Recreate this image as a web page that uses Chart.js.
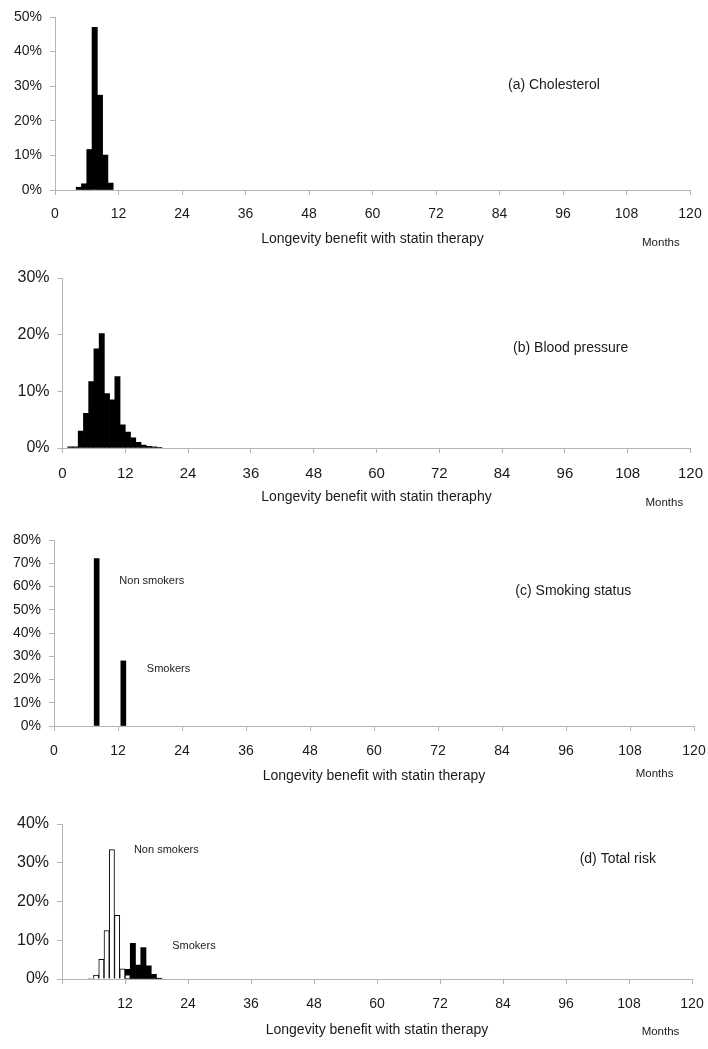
<!DOCTYPE html>
<html>
<head>
<meta charset="utf-8">
<script src="https://cdn.jsdelivr.net/npm/chart.js@4.4.1/dist/chart.umd.min.js"></script>
<style>
  body { margin: 0; background: #fff; }
  canvas { position: absolute; left: 0; }
</style>
</head>
<body>
<canvas id="chartA" width="708" height="262" style="top:0px"></canvas>
<canvas id="chartB" width="708" height="258" style="top:262px"></canvas>
<canvas id="chartC" width="708" height="279" style="top:520px"></canvas>
<canvas id="chartD" width="708" height="250" style="top:799px"></canvas>
<script>
// x axis ticks, months
const monthTicks = [0, 12, 24, 36, 48, 60, 72, 84, 96, 108, 120];

// (a) cholesterol - 1 month bins (left edge), % of patients
const cholBins = [4, 5, 6, 7, 8, 9, 10];
const cholShares = [0.8, 1.8, 11.7, 47, 27.4, 10.1, 2.0];

// (b) blood pressure
const bpBins = [1, 2, 3, 4, 5, 6, 7, 8, 9, 10, 11, 12, 13, 14, 15, 16, 17, 18];
const bpShares = [0.2, 0.2, 3.0, 6.1, 11.7, 17.5, 20.2, 9.6, 8.5, 12.6, 4.1, 2.8, 1.8, 1.0, 0.5, 0.3, 0.2, 0.1];

// (c) smoking status
const smokeMonths = [8, 13];
const smokeShares = [72, 28];

// (d) total risk
const nonSmokerBins = [5, 6, 7, 8, 9, 10, 11, 12];
const nonSmokerShares = [0.2, 1.0, 5.1, 12.5, 33.4, 16.4, 2.6, 1.1];
const smokerBins = [12, 13, 14, 15, 16, 17, 18];
const smokerShares = [2.5, 9.2, 3.6, 8.1, 3.4, 1.2, 0.2];

const FONT = "'Liberation Sans', Arial, sans-serif";
const TEXT = '#1a1a1a';
const AXIS = '#b4b4b4';

Chart.defaults.font.family = FONT;
Chart.defaults.color = TEXT;

// free text inside the panels + the "Months" unit under the axis
const panelText = {
  id: 'panelText',
  afterDraw(chart, args, opts) {
    const { ctx, chartArea, scales: { x, y } } = chart;
    ctx.save();
    ctx.fillStyle = TEXT;
    ctx.textBaseline = 'middle';
    ctx.textAlign = 'left';
    (opts.notes || []).forEach(n => {
      ctx.font = n.size + 'px ' + FONT;
      ctx.fillText(n.text, x.getPixelForValue(n.x), y.getPixelForValue(n.y));
    });
    if (opts.unit) {
      ctx.font = '11.5px ' + FONT;
      ctx.textAlign = 'center';
      ctx.fillText('Months', x.getPixelForValue(opts.unit.x), chartArea.bottom + opts.unit.dy);
    }
    ctx.restore();
  }
};

const toPoints = (bins, shares) => bins.map((b, i) => ({ x: b + 0.5, y: shares[i] }));

function makePanel(id, datasets, p) {
  const ctx = document.getElementById(id).getContext('2d');
  return new Chart(ctx, {
    type: 'bar',
    data: { datasets: datasets },
    plugins: [panelText],
    options: {
      responsive: false,
      animation: false,
      layout: { padding: { top: p.top, right: p.right, left: 0, bottom: 0 } },
      datasets: { bar: { grouped: false, barPercentage: 1, categoryPercentage: 1 } },
      plugins: {
        legend: { display: false },
        tooltip: { enabled: false },
        panelText: { notes: p.notes, unit: p.unit }
      },
      scales: {
        x: {
          type: 'linear',
          min: 0,
          max: 120,
          offset: false,
          afterBuildTicks: s => { s.ticks = monthTicks.map(v => ({ value: v })); },
          afterFit: s => { s.height = p.xHeight; s.paddingLeft = 0; s.paddingRight = 0; },
          grid: { offset: false, drawOnChartArea: false, color: AXIS, tickLength: 5 },
          border: { color: AXIS },
          ticks: {
            padding: p.tickPad,
            maxRotation: 0,
            font: { size: p.xSize },
            callback: v => (p.hideZero && v === 0) ? '' : v
          },
          title: {
            display: true,
            text: p.title,
            font: { size: 14 },
            padding: { top: 0, bottom: p.titlePad }
          }
        },
        y: {
          min: 0,
          max: p.yMax,
          afterFit: s => { s.width = p.left; s.paddingTop = 0; s.paddingBottom = 0; },
          grid: { drawOnChartArea: false, color: AXIS, tickLength: 5 },
          border: { color: AXIS },
          ticks: { stepSize: 10, padding: 8, font: { size: p.ySize }, callback: v => v + '%' }
        }
      }
    }
  });
}

makePanel('chartA', [
  { data: toPoints(cholBins, cholShares), backgroundColor: '#000', borderWidth: 0 }
], {
  top: 17, right: 18, left: 55, xHeight: 72, tickPad: 11, titlePad: 14.1, yMax: 50,
  xSize: 14, ySize: 14,
  title: 'Longevity benefit with statin therapy',
  notes: [{ text: '(a) Cholesterol', x: 85.6, y: 30.3, size: 14 }],
  unit: { x: 114.5, dy: 53 }
});

makePanel('chartB', [
  { data: toPoints(bpBins, bpShares), backgroundColor: '#000', borderWidth: 0 }
], {
  top: 16, right: 17.5, left: 62.5, xHeight: 72, tickPad: 11.7, titlePad: 14.6, yMax: 30,
  xSize: 15, ySize: 16,
  title: 'Longevity benefit with statin theraphy',
  notes: [{ text: '(b) Blood pressure', x: 86.1, y: 17.6, size: 14 }],
  unit: { x: 115, dy: 55 }
});

makePanel('chartC', [
  {
    data: smokeMonths.map((m, i) => ({ x: m, y: smokeShares[i] })),
    backgroundColor: '#000', borderWidth: 0, barThickness: 5
  }
], {
  top: 20, right: 14, left: 54, xHeight: 73, tickPad: 12, titlePad: 14.6, yMax: 80,
  xSize: 14, ySize: 14,
  title: 'Longevity benefit with statin therapy',
  notes: [
    { text: '(c) Smoking status', x: 86.5, y: 58, size: 14 },
    { text: 'Non smokers', x: 12.25, y: 62.5, size: 11 },
    { text: 'Smokers', x: 17.4, y: 24.5, size: 11 }
  ],
  unit: { x: 112.6, dy: 48 }
});

makePanel('chartD', [
  { data: toPoints(nonSmokerBins, nonSmokerShares), backgroundColor: '#fff', borderColor: '#000', borderWidth: 1 },
  { data: toPoints(smokerBins, smokerShares), backgroundColor: '#000', borderWidth: 0 }
], {
  top: 25, right: 16, left: 62, xHeight: 70, tickPad: 12, titlePad: 10.6, yMax: 40, hideZero: true,
  xSize: 14, ySize: 16,
  title: 'Longevity benefit with statin therapy',
  notes: [
    { text: '(d) Total risk', x: 98.6, y: 31, size: 14 },
    { text: 'Non smokers', x: 13.7, y: 33.2, size: 11 },
    { text: 'Smokers', x: 21.0, y: 8.6, size: 11 }
  ],
  unit: { x: 114, dy: 53 }
});
</script>
</body>
</html>
